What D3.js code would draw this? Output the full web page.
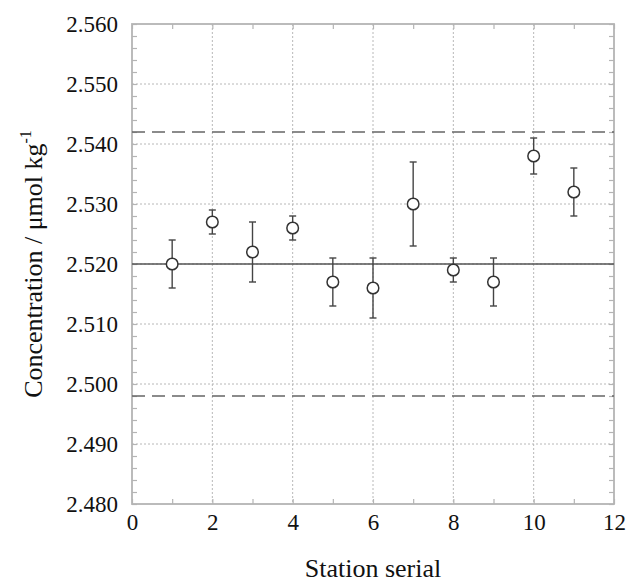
<!DOCTYPE html>
<html>
<head>
<meta charset="utf-8">
<script src="https://cdn.jsdelivr.net/npm/d3@7"></script>
<style>
  body { margin: 0; background: #fff; }
  text { font-family: "Liberation Serif", "Times New Roman", serif; fill: #111; }
</style>
</head>
<body>
<svg id="chart"></svg>
<script>
// station data
const stations = [1, 2, 3, 4, 5, 6, 7, 8, 9, 10, 11]
const values = [2.520, 2.527, 2.522, 2.526, 2.517, 2.516, 2.530, 2.519, 2.517, 2.538, 2.532]
const errors = [0.004, 0.002, 0.005, 0.002, 0.004, 0.005, 0.007, 0.002, 0.004, 0.003, 0.004]
const meanValue = 2.520
const limits = [2.498, 2.542]
const xTicks = [0, 2, 4, 6, 8, 10, 12]
const yTicks = [2.480, 2.490, 2.500, 2.510, 2.520, 2.530, 2.540, 2.550, 2.560]

const W = 628, H = 585
const margin = {top: 24, right: 14, bottom: 81, left: 132}
const width = W - margin.left - margin.right
const height = H - margin.top - margin.bottom

const svg = d3.select('#chart').attr('width', W).attr('height', H)
const g = svg.append('g').attr('transform', `translate(${margin.left},${margin.top})`)

const x = d3.scaleLinear().domain([0, 12]).range([0, width])
const y = d3.scaleLinear().domain([2.480, 2.560]).range([height, 0])

const frameColor = '#b4b4b4'

// grid lines (dotted)
g.append('g').selectAll('line').data(xTicks.slice(1, -1)).join('line')
  .attr('x1', d => x(d)).attr('x2', d => x(d)).attr('y1', 0).attr('y2', height)
  .attr('stroke', '#b8b8b8').attr('stroke-width', 1).attr('stroke-dasharray', '2,2')
g.append('g').selectAll('line').data(yTicks.slice(1, -1)).join('line')
  .attr('x1', 0).attr('x2', width).attr('y1', d => y(d)).attr('y2', d => y(d))
  .attr('stroke', '#b8b8b8').attr('stroke-width', 1).attr('stroke-dasharray', '2,2')

// minor ticks inside the frame
const xMinor = d3.range(0, 12.001, 1)
const yMinor = d3.range(2.480, 2.5601, 0.002)
const axes = [
  d3.axisBottom(x).tickValues(xMinor).tickSize(-5).tickFormat(''),
  d3.axisTop(x).tickValues(xMinor).tickSize(-5).tickFormat(''),
  d3.axisLeft(y).tickValues(yMinor).tickSize(-5).tickFormat(''),
  d3.axisRight(y).tickValues(yMinor).tickSize(-5).tickFormat('')
]
const pos = [`translate(0,${height})`, 'translate(0,0)', 'translate(0,0)', `translate(${width},0)`]
axes.forEach((a, i) => {
  const ax = g.append('g').attr('transform', pos[i]).call(a)
  ax.select('.domain').remove()
  ax.selectAll('line').attr('stroke', frameColor).attr('stroke-width', 1.2)
})

// tick labels
g.append('g').attr('transform', `translate(0,${height})`)
  .call(d3.axisBottom(x).tickValues(xTicks).tickSize(0).tickPadding(10).tickFormat(d3.format('d')))
  .call(a => a.select('.domain').remove())
  .selectAll('text').attr('font-size', 23).attr('font-family', 'Liberation Serif').attr('fill', '#111')
g.append('g')
  .call(d3.axisLeft(y).tickValues(yTicks).tickSize(0).tickPadding(14).tickFormat(d3.format('.3f')))
  .call(a => a.select('.domain').remove())
  .selectAll('text').attr('font-size', 23).attr('font-family', 'Liberation Serif').attr('fill', '#111')

// frame
g.append('rect').attr('width', width).attr('height', height)
  .attr('fill', 'none').attr('stroke', frameColor).attr('stroke-width', 1.8)

// reference lines
g.append('line').attr('x1', 0).attr('x2', width)
  .attr('y1', y(meanValue)).attr('y2', y(meanValue))
  .attr('stroke', '#555').attr('stroke-width', 1.4)
g.selectAll('.limit').data(limits).join('line').attr('class', 'limit')
  .attr('x1', 0).attr('x2', width).attr('y1', d => y(d)).attr('y2', d => y(d))
  .attr('stroke', '#666').attr('stroke-width', 1.4).attr('stroke-dasharray', '13,7')

// error bars
const pts = stations.map((s, i) => ({s, v: values[i], e: errors[i]}))
const eb = g.append('g').attr('stroke', '#444').attr('stroke-width', 1.4)
eb.selectAll('.stem').data(pts).join('line')
  .attr('x1', d => x(d.s)).attr('x2', d => x(d.s))
  .attr('y1', d => y(d.v + d.e)).attr('y2', d => y(d.v - d.e))
eb.selectAll('.capT').data(pts).join('line')
  .attr('x1', d => x(d.s) - 3.5).attr('x2', d => x(d.s) + 3.5)
  .attr('y1', d => y(d.v + d.e)).attr('y2', d => y(d.v + d.e))
eb.selectAll('.capB').data(pts).join('line')
  .attr('x1', d => x(d.s) - 3.5).attr('x2', d => x(d.s) + 3.5)
  .attr('y1', d => y(d.v - d.e)).attr('y2', d => y(d.v - d.e))

// markers
g.append('g').selectAll('circle').data(pts).join('circle')
  .attr('cx', d => x(d.s)).attr('cy', d => y(d.v)).attr('r', 5.8)
  .attr('fill', '#fff').attr('stroke', '#333').attr('stroke-width', 1.5)

// axis titles
svg.append('text').attr('x', margin.left + width / 2).attr('y', 577)
  .attr('text-anchor', 'middle').attr('font-size', 26).text('Station serial')

const yt = svg.append('text')
  .attr('transform', `translate(42,${margin.top + height / 2}) rotate(-90)`)
  .attr('text-anchor', 'middle').attr('font-size', 26)
yt.append('tspan').text('Concentration / μmol kg')
yt.append('tspan').attr('dy', -11).attr('font-size', 16).text('-1')
</script>
</body>
</html>
